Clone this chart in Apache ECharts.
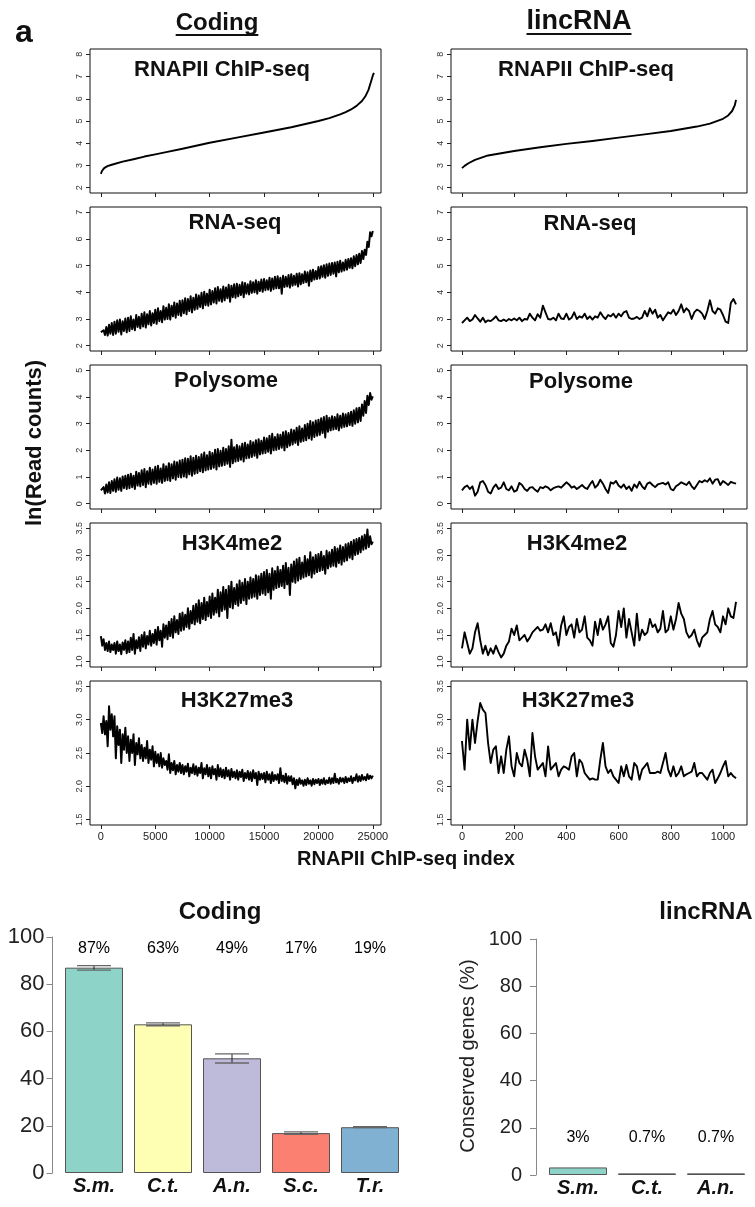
<!DOCTYPE html>
<html><head><meta charset="utf-8">
<script src="https://cdn.jsdelivr.net/npm/echarts@6/dist/echarts.min.js"></script>
<style>html,body{margin:0;padding:0;background:#fff}#c{width:755px;height:1207px}</style>
</head><body><div id="c"></div>
<script>
const FONT = "'Liberation Sans', Arial, Helvetica, sans-serif";

// ---------- DATA ----------
const panelTitles = ['RNAPII ChIP-seq', 'RNA-seq', 'Polysome', 'H3K4me2', 'H3K27me3'];
const yTicks = [[2,3,4,5,6,7,8],[2,3,4,5,6,7],[0,1,2,3,4,5],[1.0,1.5,2.0,2.5,3.0,3.5],[1.5,2.0,2.5,3.0,3.5]];
const codingXTicks = [0,5000,10000,15000,20000,25000];
const lincXTicks = [0,200,400,600,800,1000];

// Coding genes (index step 125 for noisy tracks)
const codingStep = 125;
const codingRnapiiIdx = [0,100,300,600,1000,2000,3000,4000,5000,6000,7500,10000,12500,15000,17500,20000,21000,22000,22500,23000,23500,24000,24300,24600,24800,25000,25100];
const codingRnapiiVal = [2.62,2.75,2.88,2.97,3.03,3.17,3.28,3.40,3.50,3.60,3.75,4.02,4.25,4.48,4.72,5.00,5.13,5.30,5.40,5.52,5.68,5.90,6.10,6.40,6.72,7.05,7.17];
const codingRnaSeq = [
2.50,2.48,2.58,2.40,2.70,2.38,2.78,2.45,2.85,2.40,
2.90,2.45,2.95,2.52,2.98,2.42,2.92,2.55,3.02,2.50,
3.05,2.55,3.10,2.62,2.98,2.58,3.15,2.70,3.08,2.65,
3.20,2.72,3.25,2.68,3.18,2.80,3.30,2.76,3.22,2.85,
3.35,2.82,3.40,2.92,3.30,2.88,3.48,2.98,3.42,3.00,
3.55,2.98,3.50,3.10,3.62,3.05,3.58,3.15,3.68,3.12,
3.70,3.22,3.78,3.18,3.75,3.30,3.85,3.25,3.80,3.35,
3.92,3.38,3.88,3.45,3.98,3.40,4.02,3.52,3.95,3.50,
4.10,3.55,4.05,3.62,4.15,3.58,4.20,3.68,4.12,3.65,
4.22,3.70,4.18,3.78,4.28,3.65,4.25,3.82,4.30,3.80,
4.32,3.85,4.28,3.90,4.38,3.82,4.35,3.95,4.30,3.92,
4.42,3.98,4.38,4.00,4.45,3.95,4.40,4.05,4.48,4.02,
4.50,4.08,4.45,4.10,4.55,4.05,4.52,4.12,4.58,4.15,
4.60,4.15,4.55,3.95,4.62,4.20,4.58,4.22,4.65,4.18,
4.68,4.25,4.62,4.28,4.70,4.22,4.72,4.30,4.68,4.35,
4.78,4.38,4.75,4.25,4.82,4.42,4.85,4.48,4.80,4.50,
4.95,4.52,4.98,4.58,5.02,4.55,5.05,4.62,5.08,4.65,
5.10,4.70,5.12,4.60,5.15,4.75,5.18,4.78,5.12,4.82,
5.22,4.85,5.25,4.92,5.28,4.90,5.35,4.98,5.40,5.05,
5.45,5.10,5.55,5.25,5.60,5.40,5.90,5.70,6.25,6.10,6.30];
const codingPolysome = [
0.50,0.45,0.62,0.38,0.72,0.42,0.80,0.40,0.85,0.48,
0.92,0.45,0.98,0.52,0.95,0.48,1.02,0.58,1.05,0.55,
1.08,0.58,1.12,0.62,1.05,0.55,1.20,0.68,1.15,0.65,
1.25,0.70,1.30,0.62,1.22,0.75,1.35,0.72,1.28,0.78,
1.38,0.75,1.42,0.82,1.32,0.78,1.48,0.85,1.40,0.88,
1.52,0.85,1.48,0.95,1.58,0.90,1.55,1.00,1.62,0.98,
1.65,1.02,1.70,0.98,1.68,1.10,1.78,1.05,1.72,1.12,
1.80,1.15,1.75,1.22,1.85,1.18,1.92,1.25,1.82,1.28,
1.95,1.30,1.90,1.35,2.02,1.28,2.05,1.40,1.98,1.42,
2.10,1.45,2.05,1.50,2.15,1.38,2.40,1.52,2.12,1.58,
2.20,1.60,2.15,1.65,2.25,1.58,2.28,1.70,2.22,1.72,
2.35,1.75,2.30,1.80,2.38,1.72,2.42,1.85,2.36,1.88,
2.48,1.90,2.45,1.95,2.55,1.88,2.62,2.00,2.50,2.02,
2.60,2.05,2.58,2.10,2.68,2.00,2.72,2.12,2.65,2.18,
2.78,2.22,2.75,2.28,2.85,2.20,2.90,2.32,2.82,2.35,
2.95,2.38,3.00,2.45,3.10,2.40,3.05,2.50,3.12,2.55,
3.15,2.58,3.20,2.65,3.25,2.48,3.30,2.70,3.22,2.75,
3.28,2.78,3.25,2.80,3.35,2.75,3.30,2.85,3.38,2.88,
3.35,2.90,3.40,2.95,3.45,2.92,3.50,3.00,3.58,3.05,
3.60,3.10,3.72,3.30,3.85,3.40,4.05,3.70,4.15,3.90,4.02];
const codingH3K4me2 = [
1.48,1.30,1.42,1.22,1.35,1.20,1.38,1.18,1.32,1.22,
1.35,1.15,1.38,1.20,1.32,1.14,1.36,1.22,1.40,1.16,
1.38,1.18,1.45,1.22,1.52,1.15,1.40,1.25,1.46,1.20,
1.50,1.28,1.55,1.25,1.48,1.32,1.58,1.30,1.52,1.35,
1.60,1.32,1.65,1.40,1.58,1.28,1.70,1.45,1.68,1.42,
1.75,1.48,1.80,1.45,1.85,1.55,1.78,1.52,1.90,1.58,
1.92,1.60,1.88,1.65,2.00,1.62,1.95,1.72,2.05,1.70,
2.08,1.75,2.15,1.72,2.10,1.80,2.20,1.78,2.12,1.85,
2.22,1.82,2.28,1.88,2.20,1.92,2.35,1.85,2.30,1.95,
2.40,1.98,2.35,1.82,2.42,2.02,2.50,2.00,2.38,2.08,
2.45,2.05,2.52,2.10,2.48,2.15,2.55,2.08,2.50,2.18,
2.58,2.20,2.55,2.22,2.62,2.18,2.60,2.25,2.65,2.28,
2.68,2.25,2.72,2.30,2.65,2.18,2.75,2.35,2.70,2.38,
2.78,2.40,2.72,2.42,2.80,2.38,2.85,2.45,2.76,2.25,
2.82,2.50,2.88,2.48,2.92,2.52,2.95,2.55,2.86,2.58,
2.98,2.60,2.92,2.62,3.05,2.58,2.96,2.65,3.00,2.68,
3.02,2.70,3.06,2.72,2.98,2.65,3.08,2.75,3.05,2.78,
3.10,2.80,3.15,2.78,3.12,2.85,3.18,2.82,3.15,2.88,
3.20,2.90,3.22,2.95,3.25,2.92,3.28,3.00,3.30,3.02,
3.32,3.05,3.35,3.10,3.38,3.12,3.48,3.15,3.35,3.20,3.25];
const codingH3K27me3 = [
2.95,2.80,3.05,2.78,2.98,2.60,3.20,2.85,3.08,2.75,
3.05,2.42,2.90,2.62,2.85,2.35,2.78,2.55,2.88,2.50,
2.75,2.38,2.70,2.50,2.78,2.32,2.65,2.48,2.72,2.42,
2.62,2.38,2.58,2.42,2.68,2.35,2.55,2.40,2.60,2.30,
2.52,2.35,2.48,2.30,2.50,2.28,2.42,2.32,2.38,2.25,
2.48,2.20,2.35,2.24,2.38,2.18,2.32,2.22,2.35,2.20,
2.32,2.18,2.30,2.22,2.34,2.15,2.28,2.20,2.33,2.18,
2.30,2.16,2.28,2.20,2.35,2.12,2.27,2.18,2.32,2.15,
2.28,2.12,2.30,2.18,2.26,2.10,2.32,2.15,2.27,2.14,
2.25,2.12,2.28,2.15,2.24,2.10,2.26,2.14,2.22,2.12,
2.24,2.10,2.22,2.14,2.25,2.08,2.20,2.12,2.23,2.10,
2.21,2.08,2.24,2.12,2.20,2.02,2.22,2.10,2.19,2.11,
2.20,2.06,2.22,2.10,2.18,2.05,2.21,2.08,2.17,2.10,
2.18,2.05,2.27,2.08,2.16,2.06,2.19,2.04,2.15,2.08,
2.15,2.03,2.12,1.97,2.10,2.02,2.12,2.04,2.09,2.01,
2.10,2.02,2.12,2.04,2.09,2.01,2.11,2.03,2.10,2.05,
2.11,2.02,2.10,2.04,2.12,2.03,2.09,2.05,2.13,2.04,
2.12,2.05,2.19,2.06,2.11,2.04,2.13,2.07,2.12,2.05,
2.14,2.06,2.12,2.08,2.15,2.05,2.13,2.09,2.18,2.07,
2.15,2.08,2.17,2.10,2.14,2.09,2.18,2.11,2.16,2.12,2.16];

// lincRNA genes (index step 10)
const lincStep = 10;
const lincRnapiiIdx = [0,10,25,50,75,100,150,200,300,400,500,600,700,800,850,900,950,1000,1020,1035,1045,1050];
const lincRnapiiVal = [2.88,2.98,3.10,3.25,3.35,3.45,3.55,3.65,3.82,3.97,4.10,4.25,4.40,4.55,4.65,4.75,4.88,5.10,5.25,5.45,5.70,5.95];
const lincRnaSeq = [
2.85,2.95,3.05,2.92,2.98,3.15,3.02,2.90,3.05,2.88,
2.95,2.92,3.00,3.10,2.95,2.92,2.98,2.92,3.00,2.95,
3.02,2.95,3.05,2.92,3.00,2.98,3.20,3.05,2.95,3.18,
3.05,3.50,3.25,3.00,2.98,3.05,2.95,3.20,3.02,3.00,
3.20,2.98,3.05,3.25,3.00,3.10,3.05,3.20,3.00,3.10,
2.98,3.10,3.05,3.25,3.10,3.00,3.15,3.10,3.20,3.05,
3.20,3.10,3.25,3.30,3.05,3.00,3.02,3.08,3.00,3.05,
3.30,3.10,3.40,3.20,3.35,3.05,3.15,2.95,3.10,3.25,
3.20,3.35,3.15,3.30,3.55,3.25,3.40,3.30,3.00,3.25,
3.35,3.30,3.20,3.00,3.30,3.70,3.30,3.20,3.40,3.35,
3.15,2.90,2.85,3.60,3.75,3.55];
const lincPolysome = [
0.50,0.62,0.68,0.55,0.65,0.30,0.45,0.80,0.85,0.70,
0.45,0.38,0.60,0.72,0.55,0.60,0.80,0.55,0.50,0.65,
0.45,0.50,0.78,0.70,0.55,0.48,0.60,0.62,0.52,0.45,
0.62,0.58,0.65,0.60,0.50,0.58,0.62,0.65,0.60,0.70,
0.80,0.72,0.60,0.65,0.55,0.62,0.70,0.60,0.55,0.72,
0.85,0.60,0.70,0.90,0.75,0.55,0.40,0.80,0.75,0.85,
0.68,0.60,0.72,0.55,0.65,0.48,0.72,0.60,0.82,0.65,
0.55,0.75,0.80,0.70,0.62,0.72,0.75,0.78,0.72,0.80,
0.55,0.50,0.65,0.72,0.80,0.75,0.70,0.82,0.65,0.55,
0.70,0.85,0.80,0.88,0.82,0.95,0.75,0.90,0.92,0.70,
0.85,0.78,0.70,0.82,0.78,0.75];
const lincH3K4me2 = [
1.25,1.55,1.35,1.15,1.25,1.55,1.72,1.40,1.15,1.30,
1.12,1.25,1.15,1.30,1.18,1.08,1.15,1.30,1.38,1.62,
1.50,1.68,1.40,1.45,1.50,1.38,1.45,1.55,1.60,1.65,
1.58,1.60,1.70,1.55,1.72,1.50,1.55,1.30,1.68,1.85,
1.50,1.65,1.70,1.45,1.80,1.55,1.60,1.85,1.45,1.40,
1.30,1.75,1.50,1.80,1.60,1.70,1.85,1.35,1.28,1.50,
1.95,1.65,2.00,1.45,1.80,1.55,1.30,1.90,1.40,1.60,
1.50,1.55,1.80,1.65,1.70,1.55,1.62,1.95,1.55,1.60,
1.85,1.60,1.80,2.10,1.90,1.80,1.55,1.45,1.50,1.60,
1.40,1.28,1.45,1.50,1.55,1.80,1.95,1.70,1.65,1.55,
1.85,1.70,2.00,1.85,1.82,2.12];
const lincH3K27me3 = [
2.68,2.25,3.00,2.55,3.00,2.65,2.98,3.25,3.15,3.10,
2.65,2.35,2.55,2.60,2.20,2.45,2.20,2.55,2.75,2.30,
2.15,2.50,2.35,2.30,2.55,2.40,2.15,2.80,2.45,2.25,
2.30,2.35,2.15,2.60,2.25,2.30,2.35,2.15,2.25,2.30,
2.28,2.25,2.45,2.50,2.15,2.40,2.35,2.20,2.15,2.10,
2.12,2.10,2.10,2.40,2.65,2.30,2.20,2.25,2.15,2.10,
2.05,2.30,2.15,2.32,2.15,2.10,2.35,2.30,2.10,2.25,
2.30,2.35,2.20,2.20,2.20,2.22,2.20,2.35,2.50,2.25,
2.15,2.30,2.15,2.20,2.30,2.15,2.18,2.20,2.22,2.35,
2.15,2.20,2.20,2.15,2.10,2.20,2.25,2.05,2.12,2.20,
2.30,2.38,2.15,2.20,2.15,2.12];

// Conservation bar charts
const codingSpecies = ['S.m.', 'C.t.', 'A.n.', 'S.c.', 'T.r.'];
const codingConserved = [87.0, 63.0, 48.6, 16.9, 19.4];
const codingErrLow = [86.0, 62.4, 46.6, 16.4, 19.2];
const codingErrHigh = [87.9, 63.6, 50.5, 17.4, 19.6];
const codingPctLabels = ['87%', '63%', '49%', '17%', '19%'];
const lincSpecies = ['S.m.', 'C.t.', 'A.n.'];
const lincConserved = [3.2, 0.7, 0.7];
const lincPctLabels = ['3%', '0.7%', '0.7%'];
const speciesColors = ['#8DD3C7', '#FFFFB3', '#BEBADA', '#FB8072', '#80B1D3'];

// ---------- LAYOUT ----------
const rowTops = [49, 207, 365, 523, 681];
const rowH = 144;
const colLeft = [90, 451];
const colW = [291, 296];
const xRanges = [[-1000, 25750], [-42, 1092]];
const titlePos = [
  [[222,70],[235,223],[226,381],[232,544],[237,701]],
  [[586,70],[590,224],[581,382],[577,544],[578,701]]
];

const pairs = (idx, val) => idx.map((x, i) => [x, val[i]]);
const stepped = (arr, step) => arr.map((v, i) => [i * step, v]);
const panelData = [
  [pairs(codingRnapiiIdx, codingRnapiiVal), stepped(codingRnaSeq, codingStep), stepped(codingPolysome, codingStep), stepped(codingH3K4me2, codingStep), stepped(codingH3K27me3, codingStep)],
  [pairs(lincRnapiiIdx, lincRnapiiVal), stepped(lincRnaSeq, lincStep), stepped(lincPolysome, lincStep), stepped(lincH3K4me2, lincStep), stepped(lincH3K27me3, lincStep)]
];

const grids = [], xAxes = [], yAxes = [], series = [], graphics = [];
function padRange(t) { const a = t[0], b = t[t.length - 1], d = (b - a) * 0.04; return [a - d, b + d]; }

for (let c = 0; c < 2; c++) {
  for (let r = 0; r < 5; r++) {
    const gi = grids.length;
    grids.push({ left: colLeft[c], top: rowTops[r], width: colW[c], height: rowH, show: true, borderColor: '#111', borderWidth: 1, backgroundColor: 'transparent' });
    const xt = c === 0 ? codingXTicks : lincXTicks;
    xAxes.push({
      gridIndex: gi, type: 'value', min: xRanges[c][0], max: xRanges[c][1],
      axisLine: { show: false, onZero: false }, splitLine: { show: false },
      axisTick: { show: true, customValues: xt, length: 4, lineStyle: { color: '#222' } },
      axisLabel: { show: r === 4, customValues: xt, fontSize: 11, color: '#222', margin: 6, fontFamily: FONT,
        formatter: v => String(Math.round(v)) }
    });
    const yt = yTicks[r], yr = padRange(yt);
    yAxes.push({
      gridIndex: gi, type: 'value', min: yr[0], max: yr[1],
      axisLine: { show: false, onZero: false }, splitLine: { show: false },
      axisTick: { show: true, customValues: yt, length: 4, lineStyle: { color: '#222' } },
      axisLabel: { customValues: yt, rotate: 90, fontSize: 9, color: '#333', margin: 6, fontFamily: FONT,
        formatter: v => (r >= 3 ? Number(v).toFixed(1) : String(Math.round(v))) }
    });
    series.push({
      type: 'line', xAxisIndex: gi, yAxisIndex: gi, data: panelData[c][r],
      showSymbol: false, symbol: 'none', silent: true, animation: false,
      lineStyle: { color: '#000', width: (c === 0 && r > 0) ? 2 : 1.9, join: 'round' }
    });
    graphics.push({ type: 'text', x: titlePos[c][r][0], y: titlePos[c][r][1],
      style: { text: panelTitles[r], fill: '#111', fontSize: 22, fontWeight: 'bold', fontFamily: FONT, align: 'center', verticalAlign: 'middle' } });
  }
}

// Coding bar chart
const gb1 = grids.length;
grids.push({ left: 59.5, top: 937, width: 345, height: 236 });
xAxes.push({ gridIndex: gb1, type: 'category', data: codingSpecies,
  axisLine: { show: false }, axisTick: { show: false },
  axisLabel: { fontSize: 20, fontWeight: 'bold', fontStyle: 'italic', color: '#111', margin: 3, fontFamily: FONT } });
yAxes.push({ gridIndex: gb1, type: 'value', min: 0, max: 100, interval: 20, offset: 7,
  axisLine: { show: true, lineStyle: { color: '#888' } }, axisTick: { show: true, length: 6, lineStyle: { color: '#888' } },
  splitLine: { show: false }, axisLabel: { fontSize: 22, color: '#222', margin: 8, fontFamily: FONT } });
series.push({ type: 'bar', xAxisIndex: gb1, yAxisIndex: gb1, barWidth: 58, animation: false, silent: true,
  itemStyle: { borderColor: '#555', borderWidth: 1 },
  data: codingConserved.map((v, i) => ({ value: v, itemStyle: { color: speciesColors[i] } })) });

function errRender(params, api) {
  const x = api.value(0);
  const lo = api.coord([x, api.value(1)]);
  const hi = api.coord([x, api.value(2)]);
  const w = 17;
  return { type: 'group', children: [
    { type: 'line', shape: { x1: lo[0], y1: lo[1], x2: hi[0], y2: hi[1] }, style: { stroke: '#222', lineWidth: 1 } },
    { type: 'line', shape: { x1: hi[0] - w, y1: hi[1], x2: hi[0] + w, y2: hi[1] }, style: { stroke: '#666', lineWidth: 1.3 } },
    { type: 'line', shape: { x1: lo[0] - w, y1: lo[1], x2: lo[0] + w, y2: lo[1] }, style: { stroke: '#666', lineWidth: 1.3 } }
  ] };
}
series.push({ type: 'custom', xAxisIndex: gb1, yAxisIndex: gb1, renderItem: errRender, silent: true, animation: false, z: 5,
  data: codingErrLow.map((l, i) => [i, l, codingErrHigh[i]]) });
series.push({ type: 'scatter', xAxisIndex: gb1, yAxisIndex: gb1, symbolSize: 0, silent: true, animation: false,
  itemStyle: { opacity: 1 },
  data: codingPctLabels.map((t, i) => [i, 95]),
  label: { show: true, position: 'inside', formatter: p => codingPctLabels[p.dataIndex], fontSize: 16, color: '#000', opacity: 1, fontFamily: FONT } });

// lincRNA bar chart
const gb2 = grids.length;
grids.push({ left: 543.5, top: 939, width: 207, height: 236 });
xAxes.push({ gridIndex: gb2, type: 'category', data: lincSpecies,
  axisLine: { show: false }, axisTick: { show: false },
  axisLabel: { fontSize: 20, fontWeight: 'bold', fontStyle: 'italic', color: '#111', margin: 3, fontFamily: FONT } });
yAxes.push({ gridIndex: gb2, type: 'value', min: 0, max: 100, interval: 20, offset: 7.5,
  axisLine: { show: true, lineStyle: { color: '#888' } }, axisTick: { show: true, length: 6, lineStyle: { color: '#888' } },
  splitLine: { show: false }, axisLabel: { fontSize: 20, color: '#222', margin: 14, fontFamily: FONT } });
series.push({ type: 'bar', xAxisIndex: gb2, yAxisIndex: gb2, barWidth: 58, animation: false, silent: true,
  itemStyle: { borderColor: '#555', borderWidth: 1 },
  data: lincConserved.map((v, i) => ({ value: v, itemStyle: { color: speciesColors[i] } })) });
series.push({ type: 'scatter', xAxisIndex: gb2, yAxisIndex: gb2, symbolSize: 0, silent: true, animation: false,
  itemStyle: { opacity: 1 },
  data: lincPctLabels.map((t, i) => [i, 16]),
  label: { show: true, position: 'inside', formatter: p => lincPctLabels[p.dataIndex], fontSize: 16, color: '#000', opacity: 1, fontFamily: FONT } });

// Static texts
const measure = (() => { const cv = document.createElement('canvas').getContext('2d'); return (t, f) => { cv.font = f; return cv.measureText(t).width; }; })();
function header(text, cx, cy, size, ulY) {
  graphics.push({ type: 'text', x: cx, y: cy, style: { text, fill: '#111', fontSize: size, fontWeight: 'bold', fontFamily: FONT, align: 'center', verticalAlign: 'middle' } });
  const w = measure(text, 'bold ' + size + 'px ' + FONT);
  graphics.push({ type: 'line', shape: { x1: cx - w / 2, y1: ulY, x2: cx + w / 2, y2: ulY }, style: { stroke: '#111', lineWidth: 2 } });
}
header('Coding', 217, 23, 24, 35);
header('lincRNA', 579, 22, 27, 34);
graphics.push({ type: 'text', x: 24, y: 33, style: { text: 'a', fill: '#111', fontSize: 32, fontWeight: 'bold', fontFamily: FONT, align: 'center', verticalAlign: 'middle' } });
graphics.push({ type: 'text', x: 35, y: 443, rotation: Math.PI / 2, style: { text: 'ln(Read counts)', fill: '#111', fontSize: 22, fontWeight: 'bold', fontFamily: FONT, align: 'center', verticalAlign: 'middle' } });
graphics.push({ type: 'text', x: 406, y: 859, style: { text: 'RNAPII ChIP-seq index', fill: '#111', fontSize: 20, fontWeight: 'bold', fontFamily: FONT, align: 'center', verticalAlign: 'middle' } });
graphics.push({ type: 'text', x: 220, y: 912, style: { text: 'Coding', fill: '#111', fontSize: 24, fontWeight: 'bold', fontFamily: FONT, align: 'center', verticalAlign: 'middle' } });
graphics.push({ type: 'text', x: 706, y: 912, style: { text: 'lincRNA', fill: '#111', fontSize: 24, fontWeight: 'bold', fontFamily: FONT, align: 'center', verticalAlign: 'middle' } });
graphics.push({ type: 'text', x: 468, y: 1056, rotation: Math.PI / 2, style: { text: 'Conserved genes (%)', fill: '#222', fontSize: 20, fontFamily: FONT, align: 'center', verticalAlign: 'middle' } });

const chart = echarts.init(document.getElementById('c'), null, { renderer: 'canvas' });
chart.setOption({
  animation: false,
  backgroundColor: '#fff',
  textStyle: { fontFamily: FONT },
  grid: grids, xAxis: xAxes, yAxis: yAxes, series: series, graphic: graphics
});
</script></body></html>
